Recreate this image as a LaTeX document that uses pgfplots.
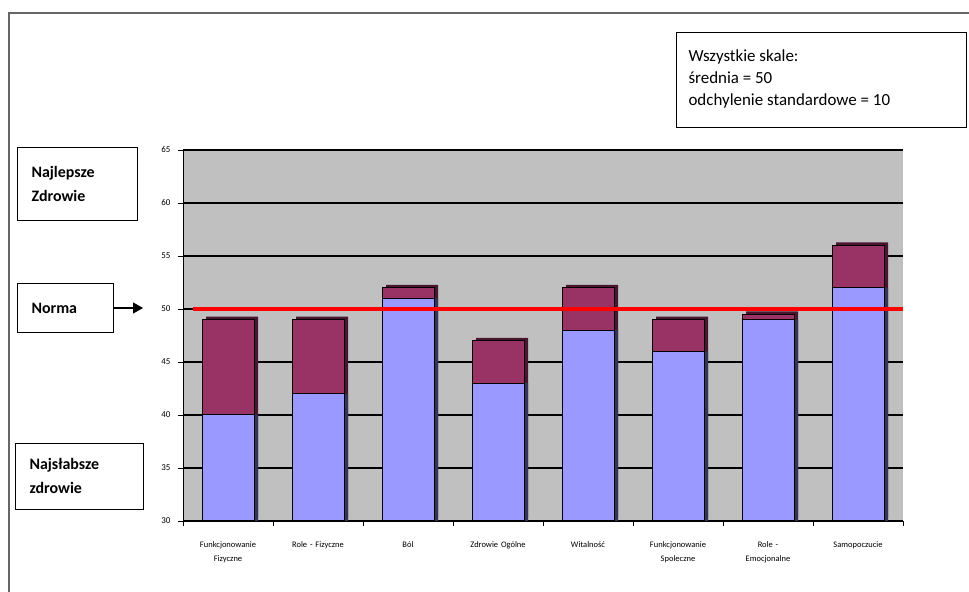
\documentclass[border=0pt]{standalone}
\usepackage{fontspec}
\setmainfont{Carlito}
\usepackage{pgfplots}
\usepackage{pgfplotstable}
\pgfplotsset{compat=1.18}
\usetikzlibrary{arrows.meta}
\definecolor{barblue}{HTML}{9999FF}
\definecolor{barpurple}{HTML}{993366}
\definecolor{plotgray}{HTML}{C0C0C0}
\definecolor{shadepurple}{HTML}{4A1530}
\definecolor{shadeblue}{HTML}{33335C}
\pgfplotstableread{
x low total
0 40 49
1 42 49
2 51 52
3 43 47
4 48 52
5 46 49
6 49 49.5
7 52 56
}\datatable
\begin{document}
\begin{tikzpicture}
\path[use as bounding box] (0bp,0bp) rectangle (969bp,592bp);
\draw[gray!80!black, line width=1.2bp] (9bp,0bp) -- (9bp,579bp) -- (969bp,579bp);
\begin{axis}[
  at={(183bp,71bp)}, anchor=south west,
  width=720bp, height=371bp, scale only axis,
  xmin=-0.5, xmax=7.5, ymin=30, ymax=65,
  ytick={30,35,...,65},
  xtick={0,...,7},
  minor xtick={-0.5,0.5,...,7.5},
  major x tick style={draw=none},
  minor tick length=5bp,
  major tick length=5bp,
  tick align=outside,
  axis x line*=bottom, axis y line*=left,
  axis line style={black, line width=0.8bp},
  tick style={black, line width=0.8bp},
  axis background/.style={fill=plotgray},
  ymajorgrids, grid style={black, line width=1.2bp},
  /pgf/number format/assume math mode=true,
  yticklabel style={font=\fontsize{9}{10}\selectfont, xshift=-4bp},
  xticklabels={{Funkcjonowanie\\Fizyczne},{Role - Fizyczne},{Ból},{Zdrowie Ogólne},{Witalność},{Funkcjonowanie\\Spoleczne},{Role -\\Emocjonalne},{Samopoczucie}},
  xticklabel style={align=center, text width=80bp, font=\fontsize{8.5}{14}\selectfont, yshift=-12bp},
  ybar, bar width=52bp, bar shift=0pt,
  clip=true,
]
\addplot[fill=shadepurple, draw=none, xshift=4bp, yshift=3bp] table[x=x,y=total]{\datatable};
\addplot[fill=shadeblue, draw=none, xshift=4bp] table[x=x,y=low]{\datatable};
\addplot[fill=barpurple, draw=black, line width=1bp] table[x=x,y=total]{\datatable};
\addplot[fill=barblue, draw=black, line width=1bp] table[x=x,y=low]{\datatable};
\addplot[sharp plot, red, line width=3.5bp, forget plot] coordinates {(-0.39,50) (7.5,50)};
\end{axis}
% annotation boxes
\draw[black, line width=0.8bp] (17bp,372bp) rectangle (137bp,445bp);
\node[anchor=west, align=left, font=\bfseries\fontsize{16}{24}\selectfont] at (28bp,408bp) {Najlepsze\\Zdrowie};
\draw[black, line width=0.8bp] (17bp,260bp) rectangle (113bp,309bp);
\node[anchor=west, font=\bfseries\fontsize{16}{18}\selectfont] at (28bp,284bp) {Norma};
\draw[black, line width=1.2bp, -{Triangle[length=10bp,width=11bp]}] (113bp,284bp) -- (143bp,284bp);
\draw[black, line width=0.8bp] (15bp,83bp) rectangle (143bp,149bp);
\node[anchor=west, align=left, font=\bfseries\fontsize{16}{24}\selectfont] at (26bp,116bp) {Najsłabsze\\zdrowie};
\draw[black, line width=0.8bp] (676bp,465bp) rectangle (966bp,560bp);
\node[anchor=west, align=left, font=\fontsize{17}{22}\selectfont] at (685bp,513bp) {Wszystkie skale:\\średnia = 50\\odchylenie standardowe = 10};
\end{tikzpicture}
\end{document}
